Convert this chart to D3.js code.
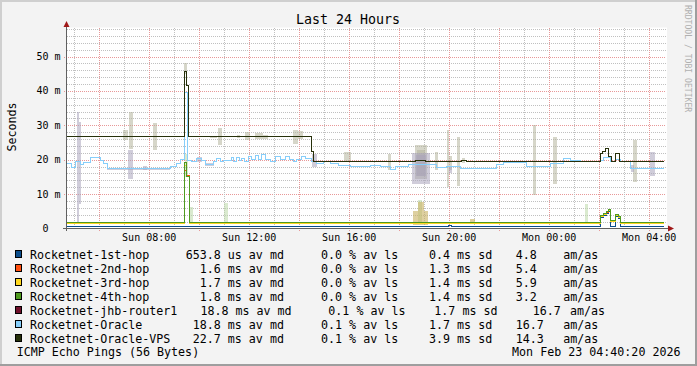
<!DOCTYPE html>
<html><head><meta charset="utf-8">
<script src="https://cdn.jsdelivr.net/npm/d3@7/dist/d3.min.js"></script>
<style>
html,body{margin:0;padding:0;background:#f3f3f3;}
svg{display:block;}
text{font-family:"DejaVu Sans Mono",monospace;white-space:pre;}
</style></head><body>
<svg id="c" width="697" height="366"></svg>
<script>
// ---------------- DATA ----------------
const graphStart = new Date(2026, 1, 22, 4, 40, 20);
const graphEnd = new Date(2026, 1, 23, 4, 40, 20);
const titleText = "Last 24 Hours";
const yAxisTitle = "Seconds";
const footerLeft = "ICMP Echo Pings (56 Bytes)";
const footerRight = "Mon Feb 23 04:40:20 2026";
const watermark = "RRDTOOL / TOBI OETIKER";

const yTicks = [0, 10, 20, 30, 40, 50];
const yTickLabels = ["0", "10 m", "20 m", "30 m", "40 m", "50 m"];
const xTickHours = [8, 12, 16, 20, 24, 28];           // hours after Sun 00:00
const xTickLabels = ["Sun 08:00", "Sun 12:00", "Sun 16:00", "Sun 20:00", "Mon 00:00", "Mon 04:00"];

const hosts = ["Rocketnet-1st-hop", "Rocketnet-2nd-hop", "Rocketnet-3rd-hop", "Rocketnet-4th-hop",
               "Rocketnet-jhb-router1", "Rocketnet-Oracle", "Rocketnet-Oracle-VPS"];
const hostColors = ["#0b4d8b", "#ff4f0f", "#ffd820", "#4f9a1f", "#6f0f2a", "#87cefa", "#26300a"];
const medianValues = [653.8, 1.6, 1.7, 1.8, 18.8, 18.8, 22.7];
const medianUnits = ["us", "ms", "ms", "ms", "ms", "ms", "ms"];
const lossValues = [0.0, 0.0, 0.0, 0.0, 0.1, 0.1, 0.1];
const sdValues = [0.4, 1.3, 1.4, 1.4, 1.7, 1.7, 3.9];
const amasValues = [4.8, 5.4, 5.9, 3.2, 16.7, 16.7, 14.3];

// median step series: [hours since graph start, ms]
const hop1Steps = [[0,0.65],[15.3,1.0],[15.42,0.65],[21.39,3.2],[21.49,3.9],[21.6,4.4],[21.69,4.9],[21.78,0.65],[21.96,3.6],[22.09,3.0],[22.16,0.65],[23.9,0.65]];
const hop2Steps = [[0,1.35],[4.73,17.0],[4.81,15.3],[4.93,1.35],[21.39,3.4],[21.49,4.1],[21.6,4.7],[21.69,5.2],[21.78,2.0],[21.96,3.7],[22.09,3.1],[22.16,1.35],[23.9,1.35]];
const hop3Steps = [[0,1.35],[4.73,18.4],[4.81,15.2],[4.93,1.35],[21.39,3.5],[21.49,4.2],[21.6,4.8],[21.69,5.3],[21.78,2.1],[21.96,3.8],[22.09,3.2],[22.16,1.35],[23.9,1.35]];
const hop4Steps = [[0,1.75],[4.73,19.1],[4.81,15.0],[4.93,1.75],[21.39,3.7],[21.49,4.4],[21.6,5.0],[21.69,5.5],[21.78,2.3],[21.96,4.0],[22.09,3.4],[22.16,1.75],[23.9,1.75]];
const oracleSteps = [[0,19.0],[0.2,17.6],[0.36,19.4],[0.56,18.5],[0.68,19.1],[0.96,20.7],[1.36,19.9],[1.48,19.0],[1.64,17.5],
  [4.16,18.0],[4.43,19.0],[4.56,20.1],[4.73,39.5],[4.85,19.9],[5.03,19.4],[5.23,20.4],[5.43,19.9],[5.56,18.5],[5.89,19.4],
  [6.03,20.4],[6.16,19.4],[6.29,19.9],[6.63,20.7],[6.69,19.6],[6.83,20.7],[6.92,19.9],[7.03,20.4],[7.12,19.4],[7.29,20.8],
  [7.43,20.1],[7.56,21.1],[7.69,20.1],[7.83,21.4],[7.96,20.1],[8.16,19.4],[8.36,20.8],[8.56,20.1],[8.76,20.9],[8.93,20.1],
  [9.09,19.6],[9.23,20.1],[9.43,20.9],[9.56,20.3],[9.83,19.4],[10.03,19.0],[10.29,19.4],[10.56,19.0],[10.88,18.4],[11.36,18.0],
  [12.16,18.2],[12.56,18.0],[12.96,17.2],[13.16,18.0],[13.69,18.75],[14.03,18.5],[14.83,17.6],[15.23,18.0],[15.76,17.5],
  [17.23,18.5],[17.49,19.1],[18.43,18.0],[19.36,19.0],[19.89,20.4],[20.16,19.9],[20.56,19.4],[21.36,19.8],[21.48,20.5],
  [21.76,19.4],[21.96,20.2],[22.16,19.6],[22.56,17.5],[23.9,17.5]];
const jhbSteps = oracleSteps; // same median path, hidden beneath Rocketnet-Oracle
const vpsSteps = [[0,26.7],[4.73,45.7],[4.81,41.5],[4.9,26.7],[9.8,22.5],[9.89,19.6],[13.96,19.9],[14.36,19.6],[15.8,19.9],[16.0,19.6],
  [21.36,21.7],[21.47,22.3],[21.56,23.2],[21.69,21.0],[21.83,19.6],[21.96,21.7],[22.13,19.6],[23.9,19.6]];

// smoke bands: [start h, end h, low ms, high ms]
const vpsSmoke = [[4.72,4.84,45,48],[2.29,2.49,25.6,28.5],[2.53,2.67,23,33.8],[3.49,3.63,22.7,30.6],[6.09,6.24,24.3,29.3],
  [5.76,6.04,26.4,27.0],[6.83,6.96,26.4,27.3],[7.16,7.36,25.6,28.0],[7.56,7.89,25.9,27.7],[7.88,8.08,26.0,27.3],
  [9.09,9.29,24.6,28.5],[9.29,9.49,25.9,28.2],[11.1,11.4,19.4,22.3],[12.88,13.0,17,21.8],[13.96,14.44,14.5,24.4],
  [14.04,14.36,15.3,22.7],[14.76,14.89,17,22.3],[15.23,15.33,12,28.5],[15.33,15.44,16.9,21.2],[15.63,15.76,12.5,26.5],
  [15.83,15.96,19,20.5],[18.67,18.79,9.7,30],[19.48,19.63,13,26.5],[22.67,22.82,13.5,25.6]];
const jhbSmoke = [[0.43,0.52,2,34],[0.52,0.60,7,31],[2.49,2.67,14.5,22.7],[3.08,3.24,17,18.3],[5.23,5.43,19.3,20.8],
  [5.56,5.9,18.1,18.9],[9.83,10.03,17.9,21.7],[13.84,14.56,13,22],[14.0,14.4,15.3,21.5],[23.36,23.56,15.4,22.2],
  [1.64,4.16,17.0,17.5],[15.3,15.45,16,18],[22.6,22.7,16.5,18.5]];
const hopSmoke = [[4.9,5.09,1.5,6.3],[6.33,6.49,1.5,7.3],[20.76,20.89,1.5,7.2],[4.76,4.89,15,21.8],[14.07,14.23,1.5,8.3]];
const hopYellowSmoke = [[13.88,14.08,1.0,5.2],[14.08,14.32,1.0,7.8],[14.32,14.48,1.0,5.0],[16.16,16.36,1.5,2.8]];

// ---------------- LAYOUT / DRAW ----------------
const W = 697, H = 366;
const svg = d3.select("#c");
const x = d3.scaleTime().domain([graphStart, graphEnd]).range([66, 666]);
const y = d3.scaleLinear().domain([0, 58.14]).range([228.5, 28.5]);
const hToDate = h => new Date(graphStart.getTime() + h * 3600e3);
const sunMidnight = new Date(2026, 1, 22, 0, 0, 0);
const clockToDate = h => new Date(sunMidnight.getTime() + h * 3600e3);

// background + 3D border
svg.append("rect").attr("x",0).attr("y",0).attr("width",W).attr("height",H).attr("fill","#f3f3f3");
svg.append("path").attr("d",`M0,${H} V0 H${W}`).attr("fill","none").attr("stroke","#cfcfcf").attr("stroke-width",4);
svg.append("path").attr("d",`M${W},0 V${H} H0`).attr("fill","none").attr("stroke","#9e9e9e").attr("stroke-width",4);

// canvas
svg.append("rect").attr("x",66.5).attr("y",27.5).attr("width",600.5).attr("height",201).attr("fill","#ffffff");

// grid (under the data)
const grid = svg.append("g").attr("shape-rendering","crispEdges").attr("stroke-dasharray","1,1");
for (let v = 2; v <= 58; v += 2) {
  const major = v % 10 === 0;
  const yy = Math.round(y(v)) + 0.5;
  grid.append("line").attr("x1", major ? 64 : 67).attr("x2", 666).attr("y1", yy).attr("y2", yy)
    .attr("stroke", major ? "#e89898" : "#c0c0c0");
}
for (let h = 5; h <= 28; h += 1) {
  const xx = Math.round(x(clockToDate(h))) + 0.5;
  if (xx < 67 || xx > 666) continue;
  const major = h % 2 === 0;
  grid.append("line").attr("x1", xx).attr("x2", xx).attr("y1", 28).attr("y2", major ? 231 : 228)
    .attr("stroke", major ? "#e89898" : "#c0c0c0");
}

const plot = svg.append("g");
function drawSmoke(list, color, op) {
  plot.append("g").selectAll("rect").data(list).join("rect")
    .attr("x", d => x(hToDate(d[0]))).attr("width", d => x(hToDate(d[1])) - x(hToDate(d[0])))
    .attr("y", d => y(d[3])).attr("height", d => y(d[2]) - y(d[3]))
    .attr("fill", color).attr("fill-opacity", op).attr("shape-rendering","crispEdges");
}
drawSmoke(hopSmoke, "#bcd8a8", 0.55);
drawSmoke(hopYellowSmoke, "#c8b060", 0.6);
drawSmoke(vpsSmoke, "#b4b49c", 0.55);
drawSmoke(jhbSmoke, "#aaa4bc", 0.55);

// median lines
const line = d3.line().x(d => x(hToDate(d[0]))).y(d => y(d[1])).curve(d3.curveStepAfter);
const series = [hop1Steps, hop2Steps, hop3Steps, hop4Steps, jhbSteps, oracleSteps, vpsSteps];
series.forEach((s, i) => {
  plot.append("path").datum(s).attr("d", line).attr("fill","none").attr("stroke", hostColors[i])
    .attr("stroke-width", 1).attr("shape-rendering","crispEdges");
});

// axes
svg.append("line").attr("x1",66.5).attr("x2",66.5).attr("y1",229).attr("y2",26).attr("stroke","#606060").attr("shape-rendering","crispEdges");
svg.append("line").attr("x1",63).attr("x2",669).attr("y1",228.5).attr("y2",228.5).attr("stroke","#606060").attr("shape-rendering","crispEdges");
svg.append("line").attr("x1",66.5).attr("x2",66.5).attr("y1",228).attr("y2",231).attr("stroke","#606060").attr("shape-rendering","crispEdges");
svg.append("path").attr("d","M63.5,27 L69.5,27 L66.5,21 Z").attr("fill","#a01818");
svg.append("path").attr("d","M668,225.5 L668,231.5 L674,228.5 Z").attr("fill","#a01818");

// axis labels
const yPad = (s) => s.includes(" ") ? s : (" " + s + "  ").slice(-4);
svg.append("g").selectAll("text").data(yTicks).join("text")
  .attr("x", 60.5).attr("y", d => y(d) + 3.5).attr("text-anchor","end")
  .attr("font-size", 10).attr("fill","#000")
  .text((d, i) => yPad(yTickLabels[i]));
svg.append("g").selectAll("text").data(xTickHours).join("text")
  .attr("x", d => x(clockToDate(d))).attr("y", 240.5).attr("text-anchor","middle")
  .attr("font-size", 10).attr("fill","#000")
  .text((d, i) => xTickLabels[i]);

// title, y title, watermark
svg.append("text").attr("x",348).attr("y",23.5).attr("text-anchor","middle").attr("font-size",13.3).text(titleText);
svg.append("text").attr("transform","translate(15.5,127) rotate(-90)").attr("text-anchor","middle").attr("font-size",11.67).text(yAxisTitle);
svg.append("text").attr("transform","translate(685,5) rotate(90)").attr("text-anchor","start").attr("font-size",8.1).attr("fill","#b0b0b0").text(watermark);

// legend
const col = {name:30, med:185.7, loss:307, sd:415, amas:515.7, unit:563.3};
const longShift = {med:7.7, loss:7.3, sd:5.3, amas:17, unit:6.7};
const pad5 = v => ("     " + v.toFixed(1)).slice(-5);
const leg = svg.append("g").attr("font-size", 11.67).attr("fill","#000");
hosts.forEach((h, i) => {
  const by = 258.5 + 14 * i;
  const sh = h.length > 20 ? longShift : {med:0, loss:0, sd:0, amas:0, unit:0};
  leg.append("rect").attr("x",15.5).attr("y",by - 8).attr("width",6).attr("height",7)
    .attr("fill", hostColors[i]).attr("stroke","#000").attr("stroke-width",1).attr("shape-rendering","crispEdges");
  leg.append("text").attr("x", col.name).attr("y", by).text(h);
  leg.append("text").attr("x", col.med + sh.med).attr("y", by).text(pad5(medianValues[i]) + " " + medianUnits[i] + " av md");
  leg.append("text").attr("x", col.loss + sh.loss).attr("y", by).text(pad5(lossValues[i]) + " % av ls");
  leg.append("text").attr("x", col.sd + sh.sd).attr("y", by).text(pad5(sdValues[i]) + " ms sd");
  leg.append("text").attr("x", col.amas + sh.amas).attr("y", by).text(amasValues[i].toFixed(1));
  leg.append("text").attr("x", col.unit + sh.unit).attr("y", by).text("am/as");
});
leg.append("text").attr("x",16.7).attr("y",356).text(footerLeft);
leg.append("text").attr("x",680.5).attr("y",356).attr("text-anchor","end").text(footerRight);
</script>
</body></html>
